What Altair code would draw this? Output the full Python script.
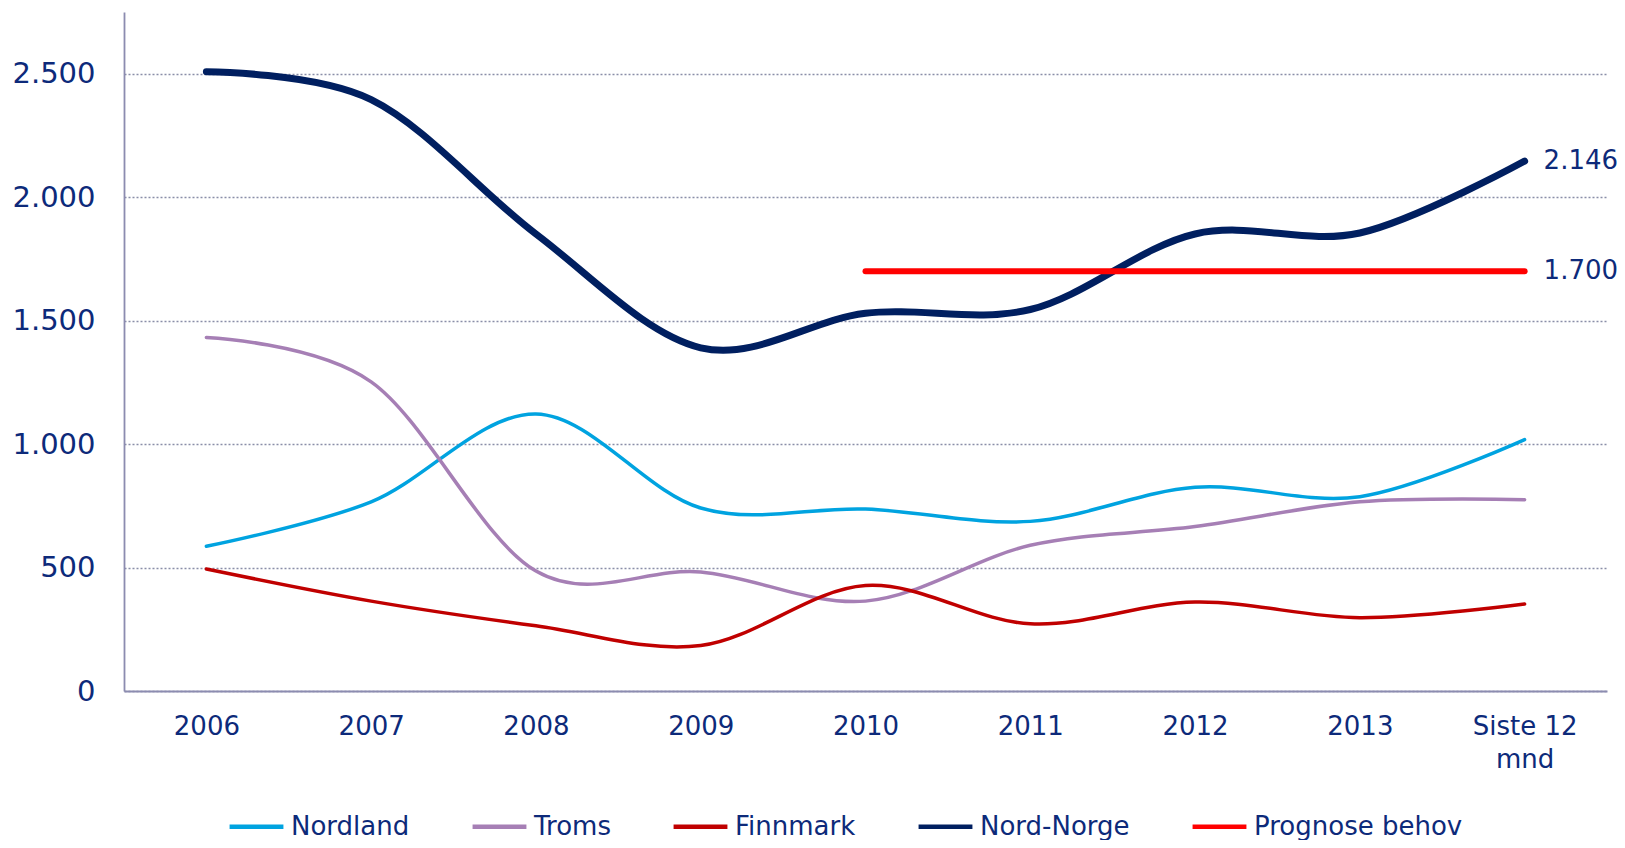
import altair as alt
import pandas as pd

categories = ["2006", "2007", "2008", "2009", "2010", "2011", "2012", "2013", "Siste 12 mnd"]
series_names = ["Nordland", "Troms", "Finnmark", "Nord-Norge", "Prognose behov"]
nordland = [586, 766, 1122, 741, 737, 687, 825, 787, 1018]
troms = [1432, 1252, 486, 482, 364, 590, 666, 766, 775]
finnmark = [494, 364, 264, 184, 427, 272, 360, 297, 352]
nord_norge = [2508, 2395, 1851, 1390, 1530, 1545, 1851, 1855, 2146]
prognose = [None, None, None, None, 1700, 1700, 1700, 1700, 1700]

colors = ["#00a3e0", "#a67fb5", "#c00000", "#001f60", "#ff0000"]
widths = [3.5, 3.5, 3.5, 7, 6]
text_color = "#0d2a7a"
font = "DejaVu Sans"

rows = []
for k, (name, vals) in enumerate(zip(series_names, [nordland, troms, finnmark, nord_norge, prognose])):
    for c, v in zip(categories, vals):
        if v is not None:
            rows.append({"cat": c, "series": name, "value": v, "order": k, "w": widths[k]})
df = pd.DataFrame(rows)

labels_df = pd.DataFrame([
    {"cat": categories[-1], "value": nord_norge[-1], "label": f"{nord_norge[-1]:,}".replace(",", ".")},
    {"cat": categories[-1], "value": prognose[-1], "label": f"{prognose[-1]:,}".replace(",", ".")},
])

x_enc = alt.X("cat:N", sort=categories, title=None,
              scale=alt.Scale(type="point", padding=0.5),
              axis=alt.Axis(labelAngle=0, ticks=False, domainColor="#8c8cb0", domainWidth=1.8,
                            labelFont=font, labelFontSize=26, labelColor=text_color,
                            labelPadding=22, labelLineHeight=33,
                            labelExpr="datum.label == 'Siste 12 mnd' ? ['Siste 12', 'mnd'] : datum.label"))
y_enc = alt.Y("value:Q", title=None,
              scale=alt.Scale(domain=[0, 2750], nice=False),
              axis=alt.Axis(values=[0, 500, 1000, 1500, 2000, 2500], ticks=False,
                            domainColor="#8c8cb0", domainWidth=1.8,
                            grid=True, gridColor="#8a8ea8", gridDash=[2, 2], gridWidth=1.3,
                            labelFont=font, labelFontSize=29, labelColor=text_color,
                            labelPadding=29,
                            labelExpr="replace(format(datum.value, ','), ',', '.')"))

lines = alt.Chart(df).mark_line(interpolate="cardinal", strokeCap="round", strokeJoin="round").encode(
    x=x_enc,
    y=y_enc,
    color=alt.Color("series:N", sort=series_names, title=None,
                    scale=alt.Scale(domain=series_names, range=colors),
                    legend=alt.Legend(orient="none", direction="horizontal", legendX=103, legendY=785,
                                      symbolType="stroke", symbolSize=2900, symbolStrokeWidth=4.5,
                                      labelOffset=5, columnPadding=53, labelLimit=0,
                                      labelFont=font, labelFontSize=26, labelColor=text_color)),
    strokeWidth=alt.StrokeWidth("w:Q", scale=None),
    order=alt.Order("order:Q"),
    detail="series:N",
)

texts = alt.Chart(labels_df).mark_text(align="left", baseline="middle", dx=19, font=font,
                                        fontSize=26, color=text_color).encode(
    x=alt.X("cat:N", sort=categories),
    y=alt.Y("value:Q"),
    text="label:N",
)

chart = alt.layer(lines, texts).properties(
    width=1483, height=679,
    autosize=alt.AutoSizeParams(type="none"),
    padding={"left": 116, "top": 4, "right": 10, "bottom": 149},
).configure(background="white").configure_view(stroke=None)

chart.save("out.html", embed_options={"renderer": "svg", "actions": False})
